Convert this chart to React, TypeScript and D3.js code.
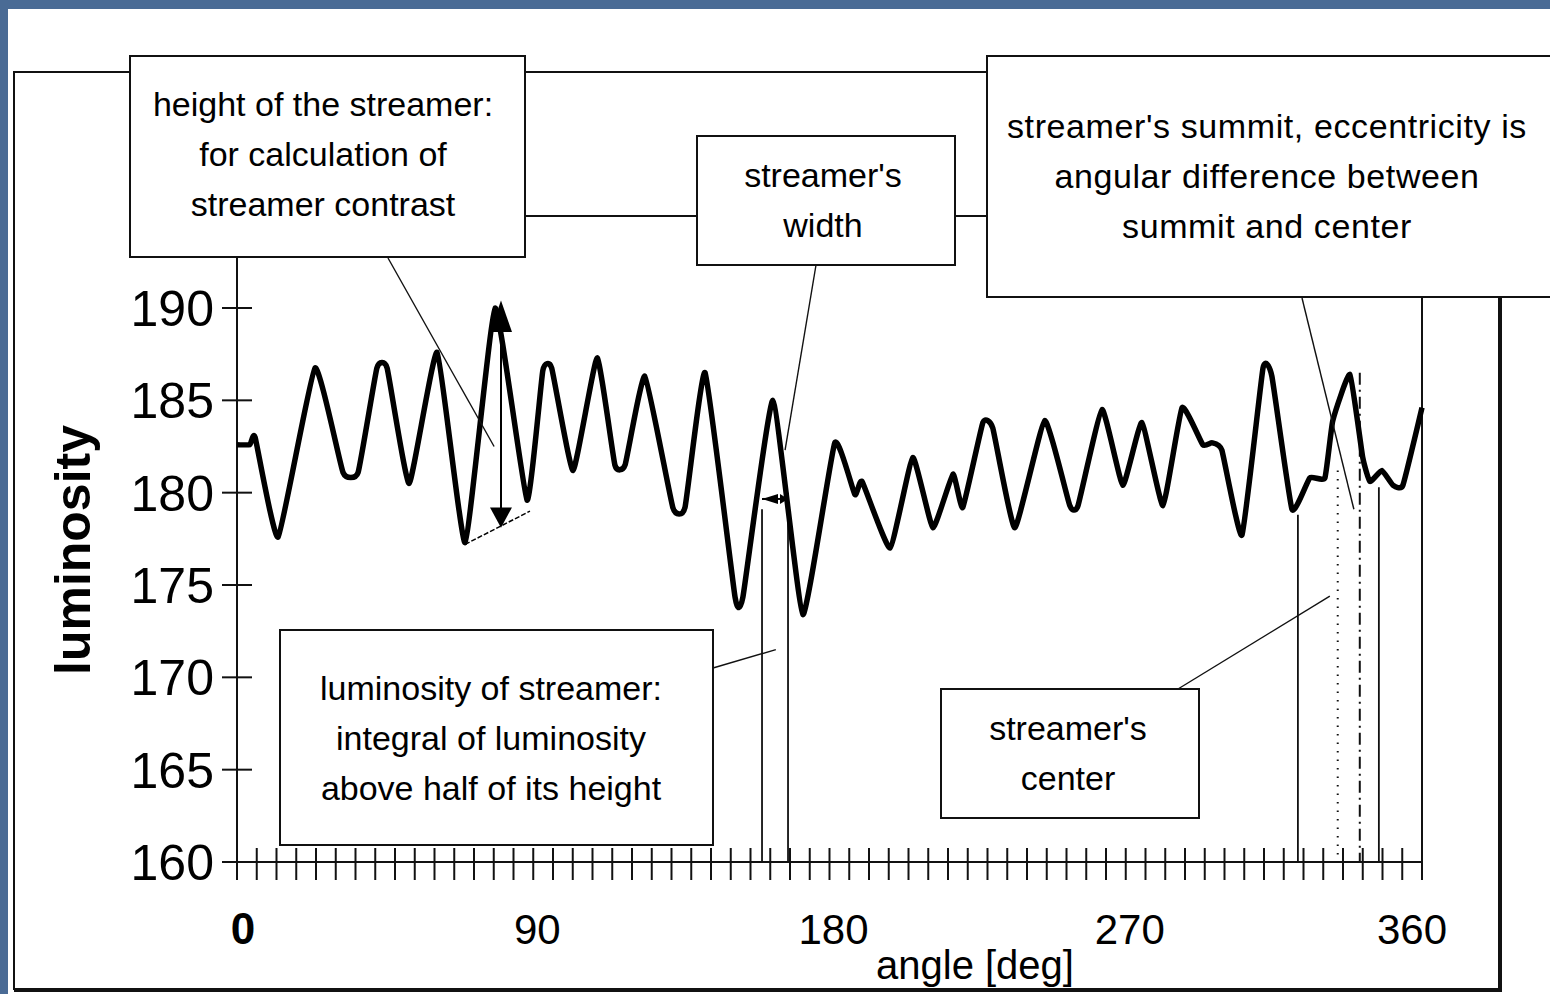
import React from 'react';
import * as d3 from 'd3';

// luminosity profile
const angles = [0, 3.9, 5.5, 12.5, 23.7, 32.2, 36.8, 42.5, 45.6, 52.3, 60.8, 69.3, 78.4, 88.1, 92.9, 95.6,
  102.1, 109.4, 114.8, 117.9, 123.9, 132.4, 136.1, 142.2, 151.3, 153.7, 162.8, 171.9, 181.6, 187.7, 189.9,
  198.4, 205.3, 211.4, 217.5, 220.5, 226.6, 229.6, 236.3, 245.4, 253.0, 255.5, 262.8, 269.1, 274.9, 281.3,
  287.1, 293.4, 296.2, 299.2, 305.3, 311.7, 314.4, 320.5, 325.9, 330.5, 332.9, 338.1, 342.0, 344.2, 347.8,
  351.2, 354.2, 360];
const luminosity = [182.6, 182.6, 183.0, 177.6, 186.75, 181.1, 181.1, 186.75, 186.75, 180.5, 187.6, 177.3, 190.0, 179.6, 186.6, 186.75,
  181.2, 187.3, 181.5, 181.5, 186.3, 179.2, 179.2, 186.5, 174.35, 174.35, 185.0, 173.4, 182.7, 179.9, 180.6,
  177.0, 181.9, 178.1, 181.0, 179.2, 183.8, 183.5, 178.1, 183.9, 179.3, 179.3, 184.5, 180.4, 183.8, 179.3,
  184.6, 182.6, 182.7, 182.3, 177.7, 186.75, 186.3, 179.1, 180.8, 180.8, 183.9, 186.4, 181.9, 180.6, 181.2,
  180.4, 180.4, 184.6];

const yTicks = [160, 165, 170, 175, 180, 185, 190];
const xLabels = [0, 90, 180, 270, 360];
const xMinorStep = 6;

// vertical marker lines: angle, top value, style
const markers = [
  { a: 159.5, top: 179.1, dash: '' },
  { a: 167.4, top: 180.0, dash: '' },
  { a: 322.3, top: 178.8, dash: '' },
  { a: 334.4, top: 181.2, dash: '1.5 7' },
  { a: 341.1, top: 186.5, dash: '12 5 2 5' },
  { a: 346.9, top: 180.3, dash: '' },
];

const boxes = [
  { x: 130, y: 56, w: 395, h: 201, cx: 323, lines: ['height of the streamer:', 'for calculation of', 'streamer contrast'], y0: 116, ls: 0 },
  { x: 697, y: 136, w: 258, h: 129, cx: 823, lines: ["streamer's", 'width'], y0: 187, ls: 0 },
  { x: 987, y: 56, w: 580, h: 241, cx: 1267, lines: ["streamer's summit, eccentricity is", 'angular difference between', 'summit and center'], y0: 138, ls: 0.6 },
  { x: 280, y: 630, w: 433, h: 215, cx: 491, lines: ['luminosity of streamer:', 'integral of luminosity', 'above half of its height'], y0: 700, ls: 0 },
  { x: 941, y: 689, w: 258, h: 129, cx: 1068, lines: ["streamer's", 'center'], y0: 740, ls: 0 },
];

// leader lines: from box edge (px) to a point on the chart (data)
const leaders = [
  { px: 388, py: 258, a: 78.1, v: 182.5 },
  { px: 816, py: 265, a: 166.5, v: 182.3 },
  { px: 713, py: 668, a: 163.7, v: 171.5 },
  { px: 1302, py: 298, a: 339.3, v: 179.1 },
  { px: 1178, py: 689, a: 332.0, v: 174.4 },
];

const FONT = '"Liberation Sans", Arial, sans-serif';

export default function App() {
  const x = d3.scaleLinear().domain([0, 360]).range([237, 1422]);
  const y = d3.scaleLinear().domain([160, 190]).range([862, 308]);
  const line = d3.line<number>().x((_, i) => x(angles[i])).y((d) => y(d)).curve(d3.curveCardinal.tension(0.6));
  const minor = d3.range(0, 360 + 0.01, xMinorStep);

  const plotTop = 216;
  const heightArrowA = 80.2;
  const widthArrowV = 179.66;

  return (
    <svg width={1550} height={994} style={{ position: 'absolute', left: 0, top: 0 }} fontFamily={FONT}>
      <rect x={0} y={0} width={1550} height={994} fill="#4a6b95" />
      <rect x={8} y={9} width={1542} height={985} fill="#ffffff" />

      {/* outer frame */}
      <path d="M14,990 V72 H1500" fill="none" stroke="#111" strokeWidth={2} />
      <line x1={1500} y1={72} x2={1500} y2={992} stroke="#111" strokeWidth={4} />
      <line x1={14} y1={990} x2={1502} y2={990} stroke="#111" strokeWidth={4} />

      {/* plot area */}
      <rect x={x(0)} y={plotTop} width={x(360) - x(0)} height={y(160) - plotTop} fill="none" stroke="#111" strokeWidth={2} />

      {/* y ticks */}
      {yTicks.map((t) => (
        <g key={t}>
          <line x1={x(0) - 15} x2={x(0) + 15} y1={y(t)} y2={y(t)} stroke="#111" strokeWidth={2} />
          <text x={214} y={y(t) + 18} textAnchor="end" fontSize={50} fill="#000">{t}</text>
        </g>
      ))}
      {/* x ticks */}
      {minor.map((t) => (
        <line key={t} x1={x(t)} x2={x(t)} y1={y(160) - 14} y2={y(160) + 18} stroke="#111" strokeWidth={2} />
      ))}
      {xLabels.map((t) => (
        <text key={t} x={x(t) + (t === 0 ? 6 : t === 360 ? -10 : 4)} y={944} textAnchor="middle"
          fontSize={t === 0 ? 44 : 42} fontWeight={t === 0 ? 'bold' : 'normal'} fill="#000">{t}</text>
      ))}
      <text x={975} y={979} textAnchor="middle" fontSize={40} fill="#000">angle [deg]</text>
      <text transform="translate(90,550) rotate(-90)" textAnchor="middle" fontSize={50} fontWeight="bold" fill="#000">luminosity</text>

      {/* markers */}
      {markers.map((m, i) => (
        <line key={i} x1={x(m.a)} x2={x(m.a)} y1={y(m.top)} y2={y(160)} stroke="#111"
          strokeWidth={m.dash ? 2 : 1.8} strokeDasharray={m.dash || undefined} />
      ))}

      {/* curve */}
      <path d={line(luminosity) || ''} fill="none" stroke="#000" strokeWidth={5.5} strokeLinejoin="round" />

      {/* height arrow */}
      <line x1={x(heightArrowA)} x2={x(heightArrowA)} y1={y(189)} y2={y(178.6)} stroke="#000" strokeWidth={2} />
      <path d={`M${x(heightArrowA)},${y(190.4)} L${x(heightArrowA) - 11},${y(188.7)} L${x(heightArrowA) + 11},${y(188.7)} Z`} fill="#000" />
      <path d={`M${x(heightArrowA)},${y(178.1)} L${x(heightArrowA) - 11},${y(179.2)} L${x(heightArrowA) + 11},${y(179.2)} Z`} fill="#000" />
      <line x1={x(69.3)} y1={y(177.2)} x2={x(89.0)} y2={y(179.0)} stroke="#000" strokeWidth={1.5} strokeDasharray="5 2" />

      {/* width arrow */}
      <line x1={x(159.5)} x2={x(167.4)} y1={y(widthArrowV)} y2={y(widthArrowV)} stroke="#000" strokeWidth={2} />
      <path d={`M${x(159.5)},${y(widthArrowV)} l16,-5 v10 Z`} fill="#000" />
      <path d={`M${x(167.4)},${y(widthArrowV)} l-8,-5 v10 Z`} fill="#000" />

      {/* leaders */}
      {leaders.map((l, i) => (
        <line key={i} x1={l.px} y1={l.py} x2={x(l.a)} y2={y(l.v)} stroke="#111" strokeWidth={1.4} />
      ))}

      {/* annotation boxes */}
      {boxes.map((b, i) => (
        <g key={i}>
          <rect x={b.x} y={b.y} width={b.w} height={b.h} fill="#fff" stroke="#111" strokeWidth={2} />
          {b.lines.map((s, j) => (
            <text key={j} x={b.cx} y={b.y0 + j * 50} textAnchor="middle" fontSize={34} letterSpacing={b.ls} fill="#000">{s}</text>
          ))}
        </g>
      ))}
    </svg>
  );
}
